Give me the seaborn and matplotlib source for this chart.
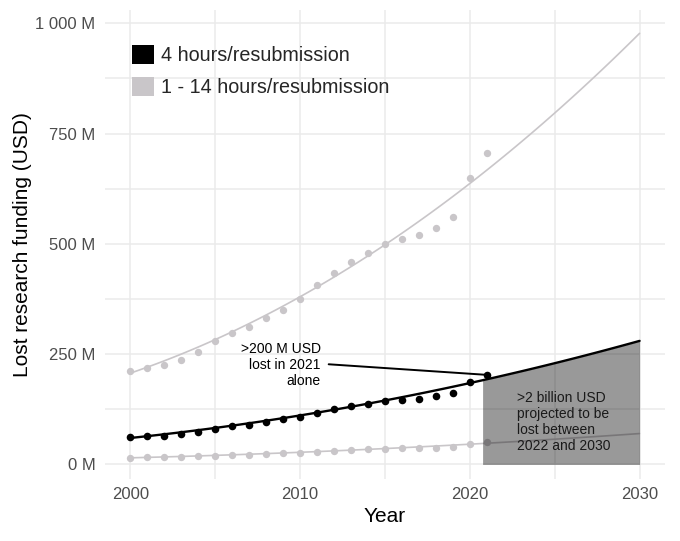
import numpy as np
import pandas as pd
import matplotlib
matplotlib.use("Agg")
import matplotlib.pyplot as plt
import seaborn as sns
from matplotlib.patches import Patch
from matplotlib.ticker import FixedLocator, FuncFormatter

# ---------------- data ----------------
years = list(range(2000, 2022))
loss_4h = [62, 64, 65, 68, 74, 81, 86, 90, 96, 102, 108, 117, 125, 132, 138,
           144, 147, 149, 154, 161, 187, 203]
loss_14h = [212, 219, 226, 237, 255, 280, 299, 312, 333, 350, 375, 406, 433,
            458, 479, 500, 511, 519, 536, 561, 649, 706]
loss_1h = [15, 16, 16, 17, 18, 20, 21, 22, 24, 25, 27, 29, 31, 33, 35, 36,
           37, 37, 38, 40, 47, 51]

# trend-line values read at three years (quadratic trend through them)
trend_years = [2000, 2015, 2030]
trend_4h = [60, 145, 280]
trend_14h = [207, 498, 977]
trend_1h = [15, 36, 70]

projection_start = 2020.75
legend_labels = ["4 hours/resubmission", "1 - 14 hours/resubmission"]
x_ticks = [2000, 2010, 2020, 2030]
x_grid = [2000, 2005, 2010, 2015, 2020, 2025, 2030]
y_ticks = [0, 250, 500, 750, 1000]
y_grid = [0, 125, 250, 375, 500, 625, 750, 875, 1000]
note_2021 = ">200 M USD\nlost in 2021\nalone"
note_proj = ">2 billion USD\nprojected to be\nlost between\n2022 and 2030"

BLACK = "#000000"
GREY = "#c9c6c9"
GRID = "#ebebeb"

# ---------------- setup ----------------
sns.set_theme(style="white")
plt.rcParams["font.family"] = ["Liberation Sans", "DejaVu Sans"]

fig = plt.figure(figsize=(6.8, 5.41), dpi=100)
ax = fig.add_axes([0.1544, 0.1146, 0.8236, 0.867])

points = pd.DataFrame({"year": years, "h4": loss_4h, "h14": loss_14h, "h1": loss_1h})

grid_years = np.linspace(2000, 2030, 121)
def trend(vals):
    coef = np.polyfit(np.array(trend_years) - 2000, vals, 2)
    return np.polyval(coef, grid_years - 2000)

trends = pd.DataFrame({"year": grid_years, "h4": trend(trend_4h),
                       "h14": trend(trend_14h), "h1": trend(trend_1h)})

# grid
for gx in x_grid:
    ax.axvline(gx, color=GRID, lw=1.1, zorder=0)
for gy in y_grid:
    ax.axhline(gy, color=GRID, lw=1.1, zorder=0)

# grey series
sns.lineplot(data=trends, x="year", y="h14", color=GREY, lw=1.2, ax=ax, zorder=2)
sns.lineplot(data=trends, x="year", y="h1", color=GREY, lw=1.2, ax=ax, zorder=2)
sns.scatterplot(data=points, x="year", y="h14", color=GREY, s=28, linewidth=0, ax=ax, zorder=2.5)
sns.scatterplot(data=points, x="year", y="h1", color=GREY, s=28, linewidth=0, ax=ax, zorder=2.5)

# projected loss area
mask = trends["year"] >= projection_start - 1e-9
ax.fill_between(trends["year"][mask], 0, trends["h4"][mask], color="black",
                alpha=0.4, linewidth=0, zorder=3)

# black series
sns.lineplot(data=trends, x="year", y="h4", color=BLACK, lw=1.7, ax=ax, zorder=4)
sns.scatterplot(data=points, x="year", y="h4", color=BLACK, s=30, linewidth=0, ax=ax, zorder=5)

# annotations
ax.annotate("", xy=(years[-1], loss_4h[-1]), xytext=(2011.68, 227),
            arrowprops=dict(arrowstyle="-", color="black", lw=1.4,
                            shrinkA=0, shrinkB=0), zorder=5)
ax.text(2011.2, 225.6, note_2021, ha="right", va="center", multialignment="right",
        fontsize=10, color="black", zorder=6)
ax.text(2022.75, 96, note_proj, ha="left", va="center", multialignment="left",
        fontsize=10, color="#1a1a1a", zorder=6)

# axes
ax.set_xlim(1998.5, 2031.5)
ax.set_ylim(-33, 1030)
ax.xaxis.set_major_locator(FixedLocator(x_ticks))
ax.yaxis.set_major_locator(FixedLocator(y_ticks))
ax.yaxis.set_major_formatter(FuncFormatter(lambda v, p: f"{v:,.0f} M".replace(",", " ")))
ax.xaxis.set_major_formatter(FuncFormatter(lambda v, p: f"{v:.0f}"))
ax.tick_params(axis="both", length=0, labelsize=12, labelcolor="#4d4d4d")
ax.tick_params(axis="y", pad=7)
ax.tick_params(axis="x", pad=6)
for s in ax.spines.values():
    s.set_visible(False)
ax.grid(False)

ax.set_xlabel("Year", fontsize=15, color="black")
ax.set_ylabel("Lost research funding (USD)", fontsize=15, color="black")
ax.xaxis.set_label_coords(0.5, -0.06)
ax.yaxis.set_label_coords(-0.13, 0.5)

handles = [Patch(facecolor=BLACK, edgecolor="none"), Patch(facecolor=GREY, edgecolor="none")]
ax.legend(handles, legend_labels, loc="upper left", bbox_to_anchor=(0.048, 0.926),
          frameon=False, fontsize=14.2, handlelength=1.1, handleheight=1.1,
          handletextpad=0.4, labelspacing=0.6, borderpad=0, borderaxespad=0)

fig.savefig("out.png", dpi=100)
